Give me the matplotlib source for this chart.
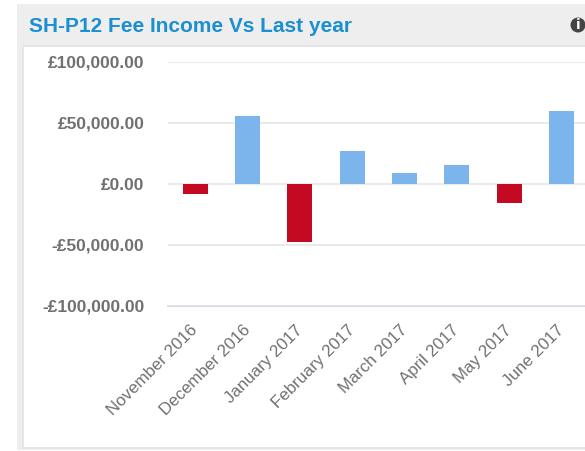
import matplotlib
matplotlib.use('Agg')
import matplotlib.pyplot as plt
from matplotlib.patches import Rectangle, Circle
from matplotlib.transforms import ScaledTranslation

plt.rcParams['font.family'] = ['Liberation Sans', 'DejaVu Sans']

months = ['November 2016', 'December 2016', 'January 2017', 'February 2017',
          'March 2017', 'April 2017', 'May 2017', 'June 2017']
values = [-8000, 55500, -47500, 27000, 9000, 15500, -16000, 59500]
yticks = [100000, 50000, 0, -50000, -100000]
ylabels = ['£100,000.00', '£50,000.00', '£0.00', '-£50,000.00', '-£100,000.00']

W, H = 585, 451
fig = plt.figure(figsize=(W / 100, H / 100), dpi=100)

# everything behind the chart is placed in pixels
bg = fig.add_axes([0, 0, 1, 1])
bg.set_xlim(0, W)
bg.set_ylim(H, 0)
bg.axis('off')
bg.add_patch(Rectangle((17, 4), W - 17, 446, fc='#eeeeee', ec='none'))
bg.add_patch(Rectangle((22, 45), W - 22, 404, fc='#e6e6e6', ec='none'))
bg.add_patch(Rectangle((24, 47), W - 24, 400, fc='white', ec='none'))
bg.text(29, 26, 'SH-P12 Fee Income Vs Last year', color='#1b8fd0', fontsize=15,
        fontweight='bold', va='center', ha='left')
bg.add_patch(Circle((578, 25), 7.5, fc='#444444', ec='none'))
bg.text(578, 25, 'i', color='white', fontsize=10, fontweight='bold',
        family='DejaVu Sans', va='center', ha='center')

ax = fig.add_axes([168 / W, 1 - 305.8 / H, (W - 168) / W, 244 / H])
ax.patch.set_alpha(0)
x = list(range(len(months)))
colors = ['#7cb5ec' if v >= 0 else '#c30a22' for v in values]
ax.bar(x, values, width=25 / 52.3, color=colors, zorder=3)
ax.set_xlim(-0.52, 7.453)
ax.set_ylim(-100000, 100000)

ax.set_yticks(yticks)
ax.set_yticklabels(ylabels, fontsize=12.5, color='#707070', fontweight='bold')
ax.set_xticks(x)
ax.set_xticklabels(months, rotation=45, ha='right', rotation_mode='anchor',
                   fontsize=12.2, color='#707070')
ax.tick_params(axis='both', length=0)
ax.tick_params(axis='y', pad=17)
ax.tick_params(axis='x', pad=12)

# nudge the month labels left to sit where the reference has them
shift = ScaledTranslation(-3.6 / 72, 0, fig.dpi_scale_trans)
for lab in ax.get_xticklabels():
    lab.set_transform(lab.get_transform() + shift)

ax.grid(axis='y', color='#e6e6e6', lw=1.2, zorder=0)
ax.axhline(-100000, color='#ccd6eb', lw=1.2, zorder=1, clip_on=False)
for s in ax.spines.values():
    s.set_visible(False)

fig.savefig('out.png', dpi=100)
